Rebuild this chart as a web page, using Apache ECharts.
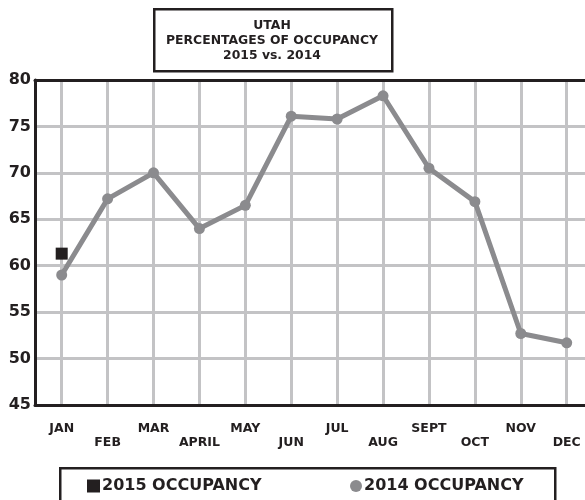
<!DOCTYPE html>
<html>
<head>
<meta charset="utf-8">
<script src="https://cdn.jsdelivr.net/npm/echarts@6/dist/echarts.min.js"></script>
<style>html,body{margin:0;padding:0;background:#fff}#c{width:585px;height:500px}</style>
</head>
<body>
<div id="c"></div>
<script>
const months = ['JAN','FEB','MAR','APRIL','MAY','JUN','JUL','AUG','SEPT','OCT','NOV','DEC'];
const occupancy2014 = [59.0, 67.2, 70.0, 64.0, 66.5, 76.1, 75.8, 78.3, 70.5, 66.9, 52.7, 51.7];
const occupancy2015 = [61.3];
const yTicks = [45, 50, 55, 60, 65, 70, 75, 80];
const titleLines = ['UTAH', 'PERCENTAGES OF OCCUPANCY', '2015 vs. 2014'];
const seriesNames = ['2015 OCCUPANCY', '2014 OCCUPANCY'];

const INK = '#231f20';
const GRIDC = '#c3c3c5';
const LINEC = '#8b8b8e';
const FONT = 'DejaVu Sans';

const chart = echarts.init(document.getElementById('c'), null, {renderer: 'canvas'});
const yMin = yTicks[0], yMax = yTicks[yTicks.length - 1], yStep = yTicks[1] - yTicks[0];
const frameAxis = (pos) => ({gridIndex: 0, type: 'value', min: 0, max: 1, position: pos,
  axisLine: {show: true, lineStyle: {color: INK, width: 3}},
  axisTick: {show: false}, axisLabel: {show: false}, splitLine: {show: false}, z: 3});

chart.setOption({
  animation: false,
  backgroundColor: '#fff',
  grid: [
    {left: 35, right: 0, top: 80, bottom: 95},
    {left: 61.7, right: 18.3, top: 80, bottom: 95}
  ],
  xAxis: [
    frameAxis('bottom'),
    frameAxis('top'),
    {gridIndex: 1, type: 'category', data: months, boundaryGap: false,
     axisLine: {show: false}, axisTick: {show: false},
     splitLine: {show: true, lineStyle: {color: GRIDC, width: 3}},
     axisLabel: {margin: 17, color: INK, fontFamily: FONT, fontWeight: 'bold', fontSize: 12.5, lineHeight: 14,
       interval: 0,
       formatter: (v, i) => (i % 2 ? '\n' + v : v)}}
  ],
  yAxis: [
    {gridIndex: 0, type: 'value', min: yMin, max: yMax, interval: yStep,
     axisLine: {show: true, lineStyle: {color: INK, width: 3}}, axisTick: {show: false},
     splitLine: {show: true, lineStyle: {color: GRIDC, width: 3}},
     axisLabel: {margin: 4, color: INK, fontFamily: FONT, fontWeight: 'bold', fontSize: 16}, z: 3},
    {gridIndex: 1, type: 'value', min: yMin, max: yMax, interval: yStep, show: false}
  ],
  legend: [
    {left: 87, top: 478, padding: 0, itemWidth: 13, itemHeight: 13, itemGap: 0,
     data: [{name: seriesNames[0], icon: 'rect'}],
     textStyle: {color: INK, fontFamily: FONT, fontWeight: 'bold', fontSize: 16, padding: [0, 0, 0, -3]}},
    {left: 350, top: 478, padding: 0, itemWidth: 12, itemHeight: 12, itemGap: 0,
     data: [{name: seriesNames[1], icon: 'circle'}],
     textStyle: {color: INK, fontFamily: FONT, fontWeight: 'bold', fontSize: 16, padding: [0, 0, 0, -3]}}
  ],
  graphic: [
    {type: 'rect', left: 153, top: 8, shape: {width: 238, height: 62},
     style: {fill: '#fff', stroke: INK, lineWidth: 2.5}, z: 10},
    {type: 'text', x: 272, y: 18, z: 11,
     style: {text: titleLines.join('\n'), textAlign: 'center', fill: INK,
       font: 'bold 12.4px "' + FONT + '"', lineHeight: 15}},
    {type: 'rect', left: 59, top: 467, shape: {width: 495, height: 40},
     style: {fill: 'transparent', stroke: INK, lineWidth: 2.5}, z: 10}
  ],
  series: [
    {name: seriesNames[1], type: 'line', xAxisIndex: 2, yAxisIndex: 1, data: occupancy2014,
     color: LINEC, symbol: 'circle', symbolSize: 11, lineStyle: {width: 5, color: LINEC},
     itemStyle: {color: LINEC, opacity: 1}, z: 5},
    {name: seriesNames[0], type: 'scatter', xAxisIndex: 2, yAxisIndex: 1, data: occupancy2015,
     color: INK, symbol: 'rect', symbolSize: 12, itemStyle: {color: INK, opacity: 1}, z: 6}
  ]
});
</script>
</body>
</html>
